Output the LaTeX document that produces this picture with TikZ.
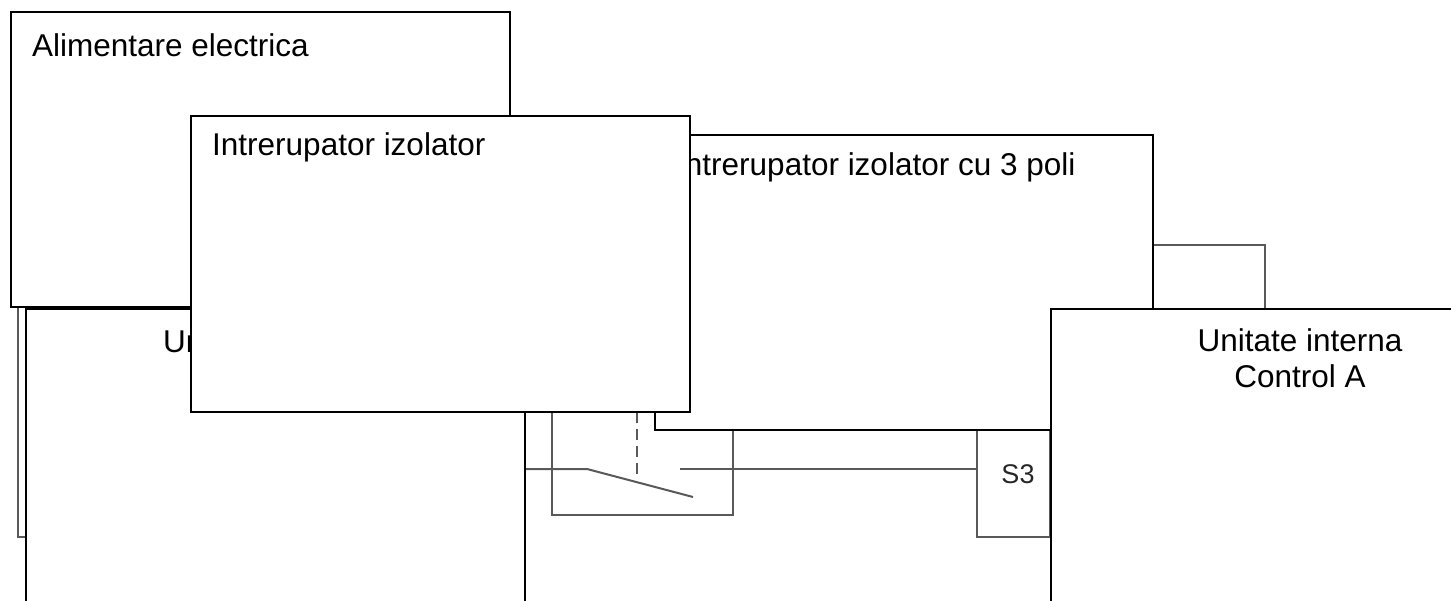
\documentclass[tikz,border=0pt]{standalone}
\usepackage{fontspec}
\setmainfont{Liberation Sans}
\usetikzlibrary{positioning, backgrounds}

\begin{document}
\begin{tikzpicture}[
  x=1pt, y=-1pt,
  panel/.style={rectangle, draw=black, fill=white, line width=2pt, outer sep=0pt, minimum width=499pt, minimum height=295pt},
  bigunit/.style={rectangle, draw=black, fill=white, line width=2pt, outer sep=0pt, minimum width=499pt, minimum height=500pt},
  title/.style={font=\fontsize{31.5}{36}\selectfont, align=center, inner sep=0pt},
  greybox/.style={rectangle, draw=black!65, line width=1.5pt, outer sep=0pt},
  wire/.style={draw=black!65, line width=1.5pt},
]
\useasboundingbox (0,0) rectangle (1451,601);

% switch parts
\node[greybox, minimum width=181pt, minimum height=134pt] (isobox) at (642.5,448) {};
\node[greybox, minimum width=73pt, minimum height=107pt] (sthree) at (1013.5,483.5) {};
\node[font=\fontsize{27}{32}\selectfont, text=black!85, inner sep=0pt] (sthreetxt) at (1018,474) {S3};
\coordinate (hinge) at (587,469);
\coordinate (blade) at (693,497);
\coordinate (contact) at (680,469);
\coordinate (linkend) at (637,479);

% outer boxes
\node[bigunit] (unitb) at (275.5,559) {};
\node[title, anchor=west] (unitbtxt) at (163,341) {Unitate interna};
\node[panel] (supply) at (260.5,160) {};
\node[title, anchor=west] (supplytxt) at (32,45) {Alimentare electrica};
\node[panel, minimum width=498pt] (tripole) at (904,282.5) {};
\node[title, anchor=west] (tripoletxt) at (676,167) {Intrerupator izolator cu 3 poli};
\node[panel] (isolator) at (440.5,264) {};
\node[title, anchor=west] (isolatortxt) at (212,147) {Intrerupator izolator};
\node[bigunit] (unita) at (1300,559) {};
\node[title] (unitatxt) at (1300,358) {Unitate interna\\Control A};

\begin{scope}[on background layer]
\draw[wire, line width=2pt] (unitb.east |- hinge) -- (hinge) -- (blade);
\draw[wire] (contact) -- (sthree.west |- contact);
\draw[wire, dashed, dash pattern=on 11pt off 6pt] (isolator.south -| linkend) -- (linkend);
\draw[wire] (tripole.east |- 0,245) -| (1265,309);
\draw[wire] (supply.south -| 18,0) |- (unitb.west |- 0,537);
\end{scope}
\end{tikzpicture}
\end{document}
